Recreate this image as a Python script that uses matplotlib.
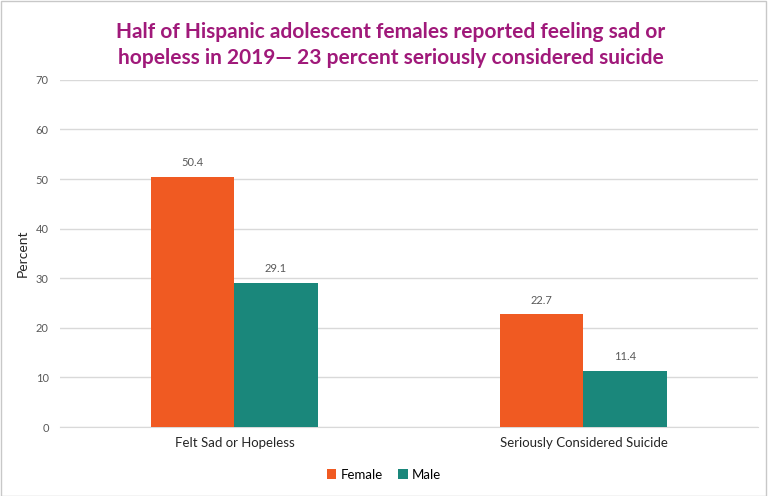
import matplotlib.pyplot as plt
import numpy as np

categories = ["Felt Sad or Hopeless", "Seriously Considered Suicide"]
female = [50.4, 22.7]
male = [29.1, 11.4]
series_names = ["Female", "Male"]
colors = ["#F05A22", "#1A877B"]
title = "Half of Hispanic adolescent females reported feeling sad or\nhopeless in 2019\u2014 23 percent seriously considered suicide"

plt.rcParams['font.family'] = ['Lato', 'DejaVu Sans']

fig = plt.figure(figsize=(7.68, 4.96), dpi=100)
ax = fig.add_axes([0.078, 0.139, 0.909, 0.700])

x = np.arange(len(categories))
w = 0.238
b1 = ax.bar(x - w/2, female, w, color=colors[0], label=series_names[0], zorder=3)
b2 = ax.bar(x + w/2, male, w, color=colors[1], label=series_names[1], zorder=3)
for bars, vals in ((b1, female), (b2, male)):
    for rect, v in zip(bars, vals):
        ax.text(rect.get_x() + rect.get_width()/2, v + 1.8, f"{v:.1f}",
                ha='center', va='bottom', fontsize=8, color='#595959')

ax.set_xlim(-0.5, 1.5)
ax.set_ylim(0, 70)
ax.set_yticks(range(0, 71, 10))
ax.yaxis.grid(True, color='#D9D9D9', linewidth=1, zorder=0)
for s in ax.spines.values():
    s.set_visible(False)
ax.spines['bottom'].set_visible(True)
ax.spines['bottom'].set_color('#D9D9D9')
ax.tick_params(axis='both', length=0)
ax.tick_params(axis='y', labelsize=8, labelcolor='#595959', pad=8)
ax.set_xticks(x)
ax.set_xticklabels(categories, fontsize=9.5, color='#262626')
ax.tick_params(axis='x', pad=7)
ax.set_ylabel("Percent", fontsize=10, color='#262626', labelpad=5)

fig.text(0.509, 0.955, title, ha='center', va='top', fontsize=15,
         fontweight='bold', color='#A0197A', linespacing=1.35)

fig.legend(handles=[b1, b2], labels=series_names, loc='center',
           bbox_to_anchor=(0.5, 0.043), ncol=2, frameon=False, fontsize=9.5,
           handlelength=0.7, handleheight=0.7, handletextpad=0.3, columnspacing=1.2)

fig.patches.append(plt.Rectangle((0.001, 0.001), 0.997, 0.997, transform=fig.transFigure,
                                 fill=False, edgecolor='#C8C8C8', linewidth=1))

fig.savefig("out.png", dpi=100)
